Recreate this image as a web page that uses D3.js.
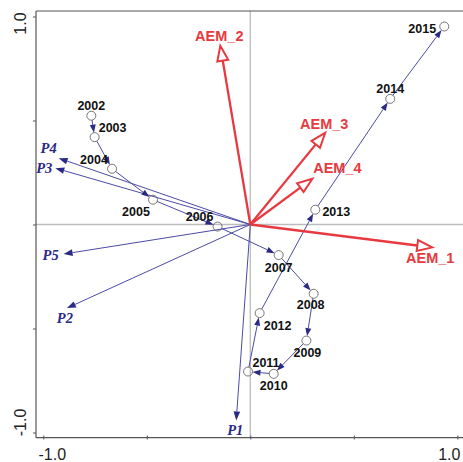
<!DOCTYPE html>
<html>
<head>
<meta charset="utf-8">
<script src="https://cdn.jsdelivr.net/npm/d3@7"></script>
<style>
  body { margin: 0; background: #fff; }
  svg { display: block; }
</style>
</head>
<body>
<script>
// explanatory vectors (red, open heads)
const aemNames = ['AEM_1', 'AEM_2', 'AEM_3', 'AEM_4'];
const aemX = [0.879, -0.145, 0.362, 0.300];
const aemY = [-0.110, 0.859, 0.441, 0.220];

// response vectors (blue)
const pNames = ['P1', 'P2', 'P3', 'P4', 'P5'];
const pX = [-0.068, -0.886, -0.942, -0.926, -0.902];
const pY = [-0.942, -0.402, 0.271, 0.319, -0.142];

// yearly sites, in time order
const years = ['2002', '2003', '2004', '2005', '2006', '2007', '2008',
               '2009', '2010', '2011', '2012', '2013', '2014', '2015'];
const yearX = [-0.768, -0.752, -0.668, -0.470, -0.158, 0.137, 0.306,
               0.271, 0.113, -0.011, 0.045, 0.314, 0.676, 0.937];
const yearY = [0.523, 0.420, 0.268, 0.119, -0.010, -0.147, -0.333,
               -0.558, -0.718, -0.707, -0.426, 0.071, 0.604, 0.952];

const axisTicks = [-1, -0.5, 0, 0.5, 1];
const axisLabels = ['-1.0', '', '', '', '1.0'];

const width = 463, height = 462;
const x = d3.scaleLinear().domain([-1, 1]).range([43.3, 457.3]);
const y = d3.scaleLinear().domain([-1, 1]).range([432.5, 16.5]);

// label placement (pixel offsets from the point / tip)
const yearOff = [[0, -10], [18, -10], [-18, -9], [-17, 12], [-18, -10], [0, 12], [-3, 11],
                 [1, 12], [0, 12], [18, -9], [18, 12], [21, 2], [0, -10], [-22, 2]];
const aemOff = [[-2, 11], [-1, -10], [-1, -9], [25, -11]];
const pOff = [[-1, 10], [-2, 10], [-11, 0], [-10, -10], [-13, 1]];

const RED = '#e63a40', NAVY = '#2b2a84', LINE = '#4b4ba6';

const svg = d3.select('body').append('svg')
  .attr('width', width)
  .attr('height', height)
  .style('font-family', 'Liberation Sans, Arial, sans-serif');

// reference lines through origin
svg.append('line')
  .attr('x1', 36).attr('x2', width)
  .attr('y1', y(0)).attr('y2', y(0))
  .attr('stroke', '#bcbcbc').attr('stroke-width', 1.3);
svg.append('line')
  .attr('x1', x(0)).attr('x2', x(0))
  .attr('y1', 11).attr('y2', 437.7)
  .attr('stroke', '#bcbcbc').attr('stroke-width', 1.3);

// frame: left, top, bottom
const frame = svg.append('g').attr('stroke', '#555').attr('stroke-width', 1.2);
frame.append('line').attr('x1', 36).attr('x2', 36).attr('y1', 11).attr('y2', 437.7);
frame.append('line').attr('x1', 36).attr('x2', width).attr('y1', 11).attr('y2', 11);
frame.append('line').attr('x1', 36).attr('x2', width).attr('y1', 437.7).attr('y2', 437.7);

// ticks with d3 axes, domain path removed
const yAxis = svg.append('g')
  .attr('transform', 'translate(36,0)')
  .call(d3.axisLeft(y).tickValues(axisTicks).tickSize(3).tickFormat(''));
const xAxis = svg.append('g')
  .attr('transform', 'translate(0,439.5)')
  .call(d3.axisTop(x).tickValues(axisTicks).tickSize(4).tickFormat(''));
[yAxis, xAxis].forEach(a => {
  a.select('.domain').remove();
  a.selectAll('.tick line').attr('stroke', '#555');
});

svg.selectAll('.ylab')
  .data(axisTicks.filter((d, i) => axisLabels[i]))
  .enter().append('text')
  .attr('class', 'ylab')
  .attr('transform', d => `translate(26,${y(d) + (d > 0 ? 7 : -10)}) rotate(-90)`)
  .attr('text-anchor', 'middle')
  .attr('font-size', 16)
  .attr('fill', '#222')
  .text(d => d.toFixed(1));

svg.selectAll('.xlab')
  .data(axisTicks.filter((d, i) => axisLabels[i]))
  .enter().append('text')
  .attr('class', 'xlab')
  .attr('x', d => x(d) + (d > 0 ? -8 : 9))
  .attr('y', 460)
  .attr('text-anchor', 'middle')
  .attr('font-size', 16)
  .attr('fill', '#222')
  .text(d => d.toFixed(1));

function headPts(tx, ty, fx, fy, len, half) {
  const dx = tx - fx, dy = ty - fy, L = Math.hypot(dx, dy);
  const ux = dx / L, uy = dy / L;
  const bx = tx - ux * len, by = ty - uy * len;
  return { bx, by, pts: [[tx, ty], [bx - uy * half, by + ux * half], [bx + uy * half, by - ux * half]] };
}

// blue response vectors
const pg = svg.append('g');
pNames.forEach((name, i) => {
  const tx = x(pX[i]), ty = y(pY[i]);
  const h = headPts(tx, ty, x(0), y(0), 9, 3.3);
  pg.append('line')
    .attr('x1', x(0)).attr('y1', y(0)).attr('x2', h.bx).attr('y2', h.by)
    .attr('stroke', LINE).attr('stroke-width', 1);
  pg.append('polygon')
    .attr('points', h.pts.map(p => p.join(',')).join(' '))
    .attr('fill', NAVY);
  pg.append('text')
    .attr('x', tx + pOff[i][0]).attr('y', ty + pOff[i][1] + 5)
    .attr('text-anchor', 'middle')
    .attr('font-family', 'Liberation Serif, Times New Roman, serif')
    .attr('font-style', 'italic').attr('font-weight', 'bold')
    .attr('font-size', 14.5)
    .attr('fill', NAVY)
    .text(name);
});

// year trajectory
const R = 4.5;
const tg = svg.append('g');
for (let i = 0; i < years.length - 1; i++) {
  const ax = x(yearX[i]), ay = y(yearY[i]);
  const bx = x(yearX[i + 1]), by = y(yearY[i + 1]);
  const L = Math.hypot(bx - ax, by - ay);
  const ux = (bx - ax) / L, uy = (by - ay) / L;
  const sx = ax + ux * R, sy = ay + uy * R;
  const ex = bx - ux * R, ey = by - uy * R;
  const h = headPts(ex, ey, sx, sy, 8, 3);
  tg.append('line')
    .attr('x1', sx).attr('y1', sy).attr('x2', h.bx).attr('y2', h.by)
    .attr('stroke', LINE).attr('stroke-width', 1);
  tg.append('polygon')
    .attr('points', h.pts.map(p => p.join(',')).join(' '))
    .attr('fill', NAVY);
}
tg.selectAll('circle')
  .data(years)
  .enter().append('circle')
  .attr('cx', (d, i) => x(yearX[i]))
  .attr('cy', (d, i) => y(yearY[i]))
  .attr('r', R)
  .attr('fill', 'none')
  .attr('stroke', '#555')
  .attr('stroke-width', 0.8);
tg.selectAll('text')
  .data(years)
  .enter().append('text')
  .attr('x', (d, i) => x(yearX[i]) + yearOff[i][0])
  .attr('y', (d, i) => y(yearY[i]) + yearOff[i][1] + 4.5)
  .attr('text-anchor', 'middle')
  .attr('font-size', 12.5)
  .attr('font-weight', 'bold')
  .attr('fill', '#111')
  .text(d => d);

// red explanatory vectors
const ag = svg.append('g');
aemNames.forEach((name, i) => {
  const tx = x(aemX[i]), ty = y(aemY[i]);
  const h = headPts(tx, ty, x(0), y(0), 15, 5.5);
  ag.append('line')
    .attr('x1', x(0)).attr('y1', y(0)).attr('x2', h.bx).attr('y2', h.by)
    .attr('stroke', RED).attr('stroke-width', 2.3);
  ag.append('polygon')
    .attr('points', h.pts.map(p => p.join(',')).join(' '))
    .attr('fill', '#fff')
    .attr('stroke', RED).attr('stroke-width', 2)
    .attr('stroke-linejoin', 'miter');
  ag.append('text')
    .attr('x', tx + aemOff[i][0]).attr('y', ty + aemOff[i][1] + 5)
    .attr('text-anchor', 'middle')
    .attr('font-size', 14.5)
    .attr('font-weight', 'bold')
    .attr('fill', RED)
    .text(name);
});
</script>
</body>
</html>
